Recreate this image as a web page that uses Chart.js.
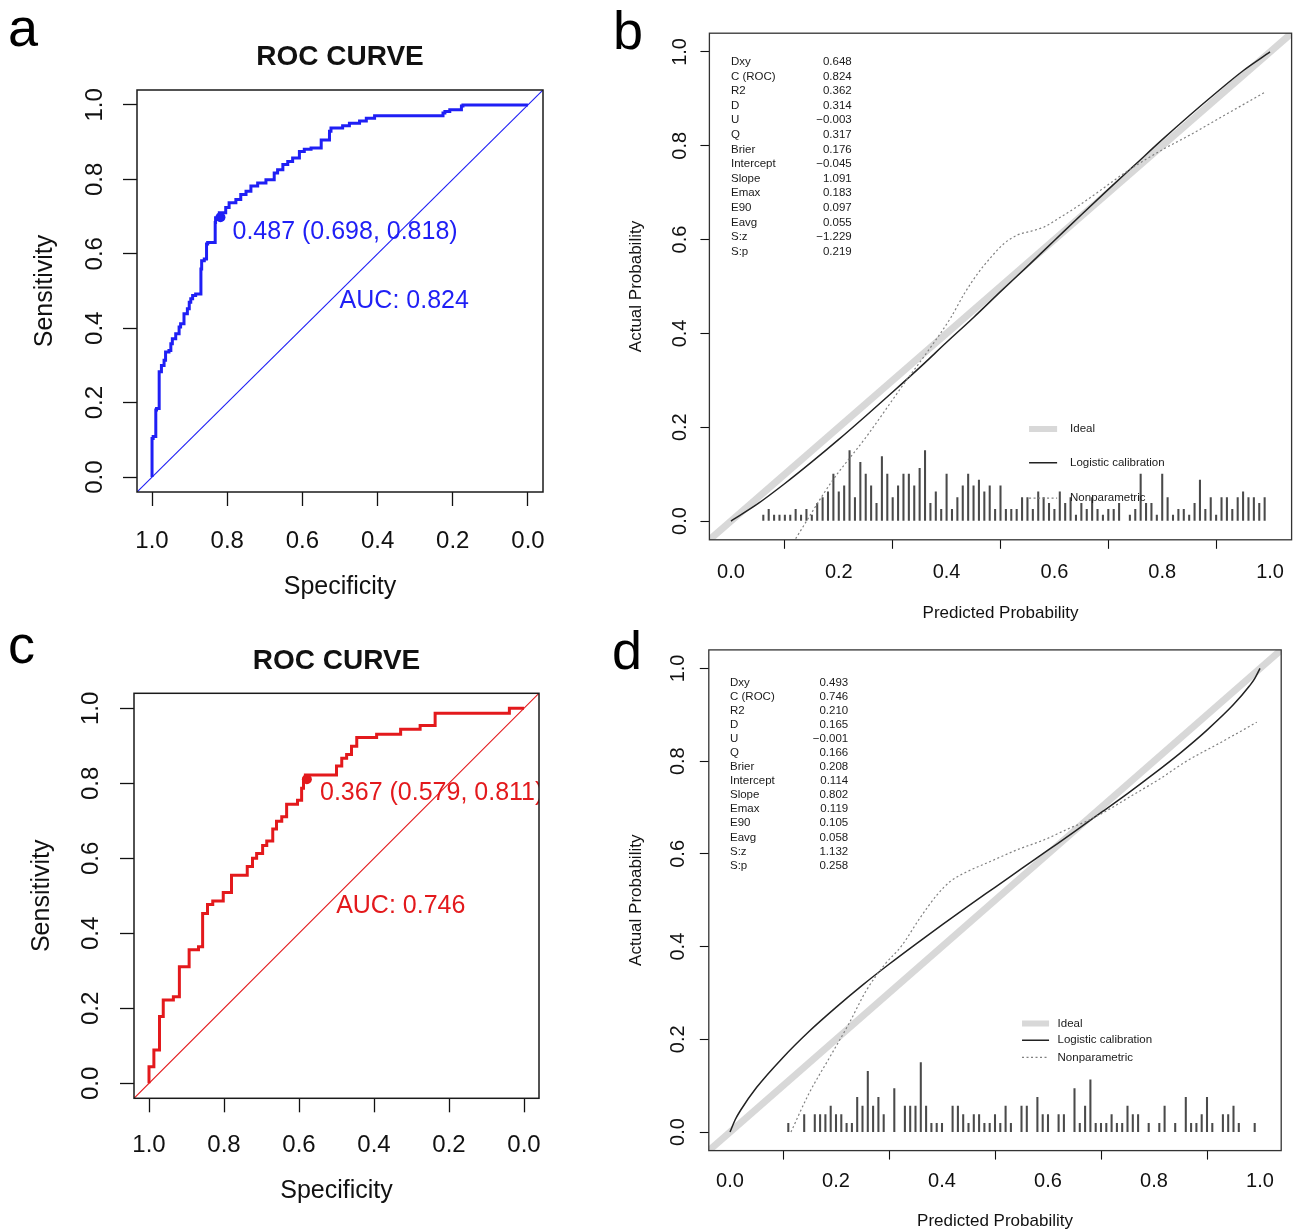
<!DOCTYPE html>
<html>
<head>
<meta charset="utf-8">
<script src="https://cdn.jsdelivr.net/npm/chart.js@4.4.1/dist/chart.umd.min.js"></script>
<style>
  body { margin: 0; background: #fff; width: 1296px; height: 1232px; position: relative; overflow: hidden;
         font-family: "Liberation Sans", Arial, Helvetica, sans-serif; }
  canvas { position: absolute; }
  .tag { position: absolute; font-size: 54px; line-height: 1; color: #000; }
</style>
</head>
<body>
<div class="tag" style="left:8px;top:-0.4px">a</div>
<div class="tag" style="left:613px;top:2.6px">b</div>
<div class="tag" style="left:8px;top:616.6px">c</div>
<div class="tag" style="left:612px;top:622.6px">d</div>

<canvas id="pa" width="600" height="615" style="left:0;top:0"></canvas>
<canvas id="pb" width="696" height="630" style="left:600px;top:0"></canvas>
<canvas id="pc" width="600" height="612" style="left:0;top:620px"></canvas>
<canvas id="pd" width="696" height="602" style="left:600px;top:630px"></canvas>

<script>
// tick labels, shared by all panels
const tickValues = [0, 0.2, 0.4, 0.6, 0.8, 1.0];

// a: ROC curve (specificity, sensitivity)
const rocASpec = [1.0,0.997,0.990,0.988,0.981,0.975,0.968,0.964,0.955,0.950,0.946,0.937,0.928,0.924,0.915,0.906,0.901,0.897,0.892,0.884,0.870,0.868,0.861,0.855,0.852,0.832,0.831,0.821,0.804,0.795,0.777,0.764,0.750,0.737,0.719,0.697,0.675,0.666,0.652,0.639,0.626,0.608,0.595,0.577,0.550,0.548,0.528,0.524,0.493,0.475,0.448,0.430,0.408,0.386,0.226,0.221,0.208,0.177,0.173,0.164,0.0];
const rocASens = [0,0.104,0.109,0.180,0.184,0.283,0.300,0.314,0.336,0.340,0.358,0.372,0.385,0.403,0.412,0.439,0.452,0.470,0.479,0.488,0.492,0.559,0.581,0.586,0.626,0.630,0.684,0.697,0.710,0.724,0.737,0.746,0.759,0.768,0.782,0.790,0.799,0.817,0.826,0.840,0.848,0.857,0.875,0.881,0.884,0.906,0.906,0.929,0.938,0.944,0.951,0.957,0.964,0.971,0.971,0.978,0.982,0.987,0.997,1.0,1.0];
const cutA = [0.818, 0.698];
const notesA = ['0.487 (0.698, 0.818)', 'AUC: 0.824'];

// c: ROC curve (specificity, sensitivity)
const rocCSpec = [1.0,0.987,0.972,0.962,0.935,0.919,0.893,0.868,0.857,0.844,0.830,0.802,0.780,0.738,0.724,0.713,0.697,0.686,0.670,0.660,0.646,0.633,0.604,0.593,0.588,0.583,0.500,0.486,0.473,0.460,0.446,0.393,0.329,0.277,0.237,0.039,0.0];
const rocCSens = [0,0.044,0.089,0.178,0.222,0.231,0.311,0.356,0.364,0.453,0.477,0.486,0.509,0.555,0.578,0.600,0.613,0.634,0.646,0.678,0.699,0.711,0.744,0.755,0.787,0.811,0.822,0.846,0.867,0.877,0.899,0.922,0.931,0.944,0.954,0.987,1.0];
const cutC = [0.579, 0.811];
const notesC = ['0.367 (0.579, 0.811)', 'AUC: 0.746'];

// b: calibration
const calBLogX = [0,0.05,0.1,0.15,0.2,0.25,0.3,0.35,0.4,0.45,0.5,0.55,0.6,0.65,0.7,0.75,0.8,0.85,0.9,0.95,1];
const calBLogY = [0,0.037,0.08,0.126,0.174,0.224,0.275,0.327,0.381,0.434,0.489,0.543,0.598,0.653,0.707,0.760,0.813,0.864,0.913,0.960,1];
const calBNpX = [0.12,0.186,0.252,0.318,0.367,0.408,0.433,0.458,0.482,0.507,0.532,0.557,0.581,0.606,0.647,0.689,0.730,0.771,0.804,0.853,0.911,0.99];
const calBNpY = [-0.0375,0.0825,0.181,0.288,0.365,0.434,0.485,0.528,0.562,0.592,0.610,0.618,0.627,0.644,0.674,0.708,0.742,0.772,0.794,0.824,0.862,0.914];
const rugBX = [0.06,0.07,0.08,0.09,0.10,0.11,0.12,0.13,0.14,0.15,0.16,0.17,0.18,0.19,0.20,0.21,0.22,0.23,0.24,0.25,
  0.26,0.27,0.28,0.29,0.30,0.31,0.32,0.33,0.34,0.35,0.36,0.37,0.38,0.39,0.40,0.41,0.42,0.43,0.44,0.45,
  0.46,0.47,0.48,0.49,0.50,0.51,0.52,0.53,0.54,0.55,0.56,0.57,0.58,0.59,0.60,0.61,0.62,0.63,0.64,0.65,
  0.66,0.67,0.68,0.69,0.70,0.71,0.72,0.74,0.75,0.76,0.77,0.78,0.79,0.80,0.81,0.82,0.83,0.84,0.85,
  0.86,0.87,0.88,0.89,0.90,0.91,0.92,0.93,0.94,0.95,0.96,0.97,0.98,0.99];
const rugBN = [1,2,1,1,1,1,2,1,2,1, 3,4,5,8,5,6,12,4,10,8,
  6,3,11,8,4,6,8,8,6,9, 12,3,5,2,8,2,4,6,8,6,
  7,5,6,2,6,2,2,2,4,4, 2,5,4,3,2,5,3,4,1,3,
  2,4,2,1,2,2,3,1,2, 8,3,3,1,8,4,1,2,2,1,
  3,7,2,4,1,4,4,2,4,5, 4,4,3,4];
const rugBUnit = 0.0125;

// d: calibration
const calDLogX = [0,0.01,0.02,0.05,0.1,0.15,0.2,0.25,0.3,0.35,0.4,0.45,0.5,0.55,0.6,0.65,0.7,0.75,0.8,0.85,0.9,0.95,0.98,0.99,1];
const calDLogY = [0,0.027,0.047,0.096,0.161,0.218,0.269,0.317,0.362,0.405,0.447,0.488,0.528,0.568,0.608,0.648,0.689,0.730,0.773,0.818,0.867,0.922,0.962,0.978,1];
const calDNpX = [0.115,0.148,0.190,0.224,0.257,0.291,0.324,0.358,0.391,0.416,0.450,0.492,0.542,0.592,0.642,0.676,0.718,0.760,0.810,0.860,0.927,0.994];
const calDNpY = [0.0,0.081,0.165,0.233,0.305,0.360,0.402,0.461,0.512,0.541,0.563,0.584,0.609,0.630,0.656,0.672,0.698,0.727,0.761,0.799,0.841,0.884];
const rugDX = [0.11,0.14,0.16,0.17,0.18,0.19,0.20,0.21,0.22,0.23,0.24,0.25,0.26,0.27,0.28,0.29,0.31,0.33,0.34,0.35,
  0.36,0.37,0.38,0.39,0.40,0.42,0.43,0.44,0.45,0.46,0.47,0.48,0.49,0.50,0.51,0.52,0.53,0.55,0.56,0.58,
  0.59,0.60,0.62,0.63,0.65,0.66,0.67,0.68,0.69,0.70,0.71,0.72,0.73,0.74,0.75,0.76,0.77,0.79,0.81,0.82,
  0.84,0.86,0.87,0.88,0.89,0.90,0.91,0.93,0.94,0.95,0.96,0.99];
const rugDN = [1,2,2,2,2,3,2,2,1,1,4,3,7,3,4,2,5,3,3,3,
  8,3,1,1,1,3,3,2,1,2,2,1,1,2,1,3,1,3,3,4,
  2,2,2,2,5,1,3,6,1,1,1,2,1,1,3,2,2,1,1,3,
  1,4,1,1,2,4,1,2,2,3,1,1];
const rugDUnit = 0.01875;

const idealXY = [-0.04, 1.04];

const statNames = ['Dxy','C (ROC)','R2','D','U','Q','Brier','Intercept','Slope','Emax','E90','Eavg','S:z','S:p'];
const statsB = ['0.648','0.824','0.362','0.314','\u22120.003','0.317','0.176','\u22120.045','1.091','0.183','0.097','0.055','\u22121.229','0.219'];
const statsD = ['0.493','0.746','0.210','0.165','\u22120.001','0.166','0.208','0.114','0.802','0.119','0.105','0.058','1.132','0.258'];
const legendNames = ['Ideal', 'Logistic calibration', 'Nonparametric'];

const FONT = '"Liberation Sans", Arial, Helvetica, sans-serif';
const BLUE = '#1f1ff5', RED = '#e3191c';
const GREY = '#d8d8d8', DARK = '#222', DOT = '#808080';

function pts(xs, ys) { return xs.map((x, i) => ({ x: x, y: ys[i] })); }
function spikes(xs, ns, unit) { return xs.map((x, i) => ({ x: x, y: ns[i] * unit })); }

// frame, text notes, stats table and legend, all placed in data units
const rPlot = {
  id: 'rPlot',
  afterDatasetsDraw(chart, args, o) {
    const { ctx, chartArea: a } = chart;
    const sx = chart.scales.x, sy = chart.scales.y;
    ctx.save();
    ctx.beginPath();
    ctx.rect(a.left, a.top, a.right - a.left, a.bottom - a.top);
    ctx.clip();
    ctx.textBaseline = 'middle';
    (o.notes || []).forEach(n => {
      ctx.font = n.font;
      ctx.fillStyle = n.color;
      ctx.textAlign = 'left';
      ctx.fillText(n.text, sx.getPixelForValue(n.x), sy.getPixelForValue(n.y));
    });
    if (o.stats) {
      const s = o.stats;
      ctx.font = s.font;
      ctx.fillStyle = s.color;
      s.names.forEach((nm, i) => {
        const yy = sy.getPixelForValue(s.top - i * s.step);
        ctx.textAlign = 'left';
        ctx.fillText(nm, sx.getPixelForValue(s.xl), yy);
        ctx.textAlign = 'right';
        ctx.fillText(s.values[i], sx.getPixelForValue(s.xr), yy);
      });
    }
    if (o.legend) {
      const l = o.legend;
      l.names.forEach((nm, i) => {
        const yy = sy.getPixelForValue(l.ys[i]);
        const st = l.styles[i];
        ctx.beginPath();
        ctx.strokeStyle = st.color;
        ctx.lineWidth = st.width;
        ctx.setLineDash(st.dash || []);
        ctx.moveTo(sx.getPixelForValue(l.x1), yy);
        ctx.lineTo(sx.getPixelForValue(l.x2), yy);
        ctx.stroke();
        ctx.setLineDash([]);
        ctx.font = l.font;
        ctx.fillStyle = l.color;
        ctx.textAlign = 'left';
        ctx.fillText(nm, sx.getPixelForValue(l.xt), yy);
      });
    }
    ctx.restore();
    ctx.save();
    ctx.strokeStyle = o.frameColor;
    ctx.lineWidth = o.frameWidth;
    ctx.strokeRect(a.left, a.top, a.right - a.left, a.bottom - a.top);
    ctx.restore();
  }
};

function axisX(o) {
  return {
    type: 'linear', position: 'bottom', min: -0.04, max: 1.04, reverse: !!o.reverse, offset: false,
    afterBuildTicks: s => { s.ticks = tickValues.map(v => ({ value: v })); },
    afterFit: s => { s.height = o.size; },
    grid: { drawOnChartArea: false, drawTicks: true, tickLength: o.tl, tickColor: '#111', tickWidth: o.tw },
    border: { display: false },
    ticks: { autoSkip: false, maxRotation: 0, minRotation: 0, padding: o.pad, color: '#111',
             font: { family: FONT, size: o.tickSize, lineHeight: 1.2 }, callback: v => v.toFixed(1) },
    title: { display: true, text: o.title, color: '#111', padding: 0,
             font: { family: FONT, size: o.titleSize, lineHeight: 1.2 } }
  };
}

function axisY(o) {
  return {
    type: 'linear', position: 'left', min: -0.04, max: 1.04,
    afterBuildTicks: s => { s.ticks = tickValues.map(v => ({ value: v })); },
    afterFit: s => { s.width = o.size; },
    grid: { drawOnChartArea: false, drawTicks: true, tickLength: o.tl, tickColor: '#111', tickWidth: o.tw },
    border: { display: false },
    ticks: { autoSkip: false, minRotation: 90, maxRotation: 90, crossAlign: 'center', padding: o.pad, color: '#111',
             font: { family: FONT, size: o.tickSize, lineHeight: 1.2 }, callback: v => v.toFixed(1) },
    title: { display: true, text: o.title, color: '#111', padding: 0,
             font: { family: FONT, size: o.titleSize, lineHeight: 1.2 } }
  };
}

function panel(id, cfg) {
  return new Chart(document.getElementById(id), {
    type: 'scatter',
    data: { datasets: cfg.datasets },
    options: {
      responsive: false, animation: false, devicePixelRatio: 1, events: [],
      layout: { padding: cfg.padding },
      scales: { x: cfg.x, y: cfg.y },
      plugins: {
        legend: { display: false },
        tooltip: { enabled: false },
        title: cfg.title || { display: false },
        rPlot: cfg.deco
      }
    },
    plugins: [rPlot]
  });
}

function rocTitle(bottom) {
  return { display: true, text: 'ROC CURVE', color: '#111', fullSize: false,
           padding: { top: 0, bottom: bottom },
           font: { family: FONT, size: 28, weight: 'bold', lineHeight: 1.2 } };
}

function rocSets(spec, sens, cut, color) {
  return [
    { type: 'scatter', data: [{ x: cut[0], y: cut[1] }], pointRadius: 5, pointBackgroundColor: color, pointBorderWidth: 0 },
    { type: 'line', data: pts(spec, sens), borderColor: color, borderWidth: 3, pointRadius: 0, stepped: 'after', fill: false },
    { type: 'line', data: pts([idealXY[1], idealXY[0]], idealXY), borderColor: color, borderWidth: 1.1, pointRadius: 0, fill: false }
  ];
}

function calSets(lx, ly, nx, ny, rx, rn, unit) {
  return [
    { type: 'line', data: pts(nx, ny), borderColor: DOT, borderWidth: 1.2, borderDash: [2, 2.5], pointRadius: 0,
      cubicInterpolationMode: 'monotone', fill: false },
    { type: 'line', data: pts(lx, ly), borderColor: DARK, borderWidth: 1.5, pointRadius: 0,
      cubicInterpolationMode: 'monotone', fill: false },
    { type: 'bar', data: spikes(rx, rn, unit), backgroundColor: '#4a4a4a', barThickness: 1.4, borderWidth: 0, grouped: false },
    { type: 'line', data: pts(idealXY, idealXY), borderColor: GREY, borderWidth: 7, pointRadius: 0, fill: false }
  ];
}

const legendStyles = [
  { color: GREY, width: 6 },
  { color: DARK, width: 1.5 },
  { color: DOT, width: 1.2, dash: [2, 2.5] }
];

// panel a
panel('pa', {
  padding: { left: 30, right: 57, top: 40.2, bottom: 13 },
  title: rocTitle(16.2),
  x: axisX({ reverse: true, size: 110, tl: 14, tw: 1.3, pad: 20.6, tickSize: 24, title: 'Specificity', titleSize: 25 }),
  y: axisY({ size: 107, tl: 14, tw: 1.3, pad: 11.3, tickSize: 24, title: 'Sensitivity', titleSize: 25 }),
  datasets: rocSets(rocASpec, rocASens, cutA, BLUE),
  deco: {
    frameColor: '#1a1a1a', frameWidth: 1.5,
    notes: [
      { text: notesA[0], x: 0.786, y: 0.657, color: BLUE, font: '25px ' + FONT },
      { text: notesA[1], x: 0.501, y: 0.474, color: BLUE, font: '25px ' + FONT }
    ]
  }
});

// panel c
panel('pc', {
  padding: { left: 27, right: 61, top: 24.2, bottom: 26 },
  title: rocTitle(15.5),
  x: axisX({ reverse: true, size: 107.7, tl: 14, tw: 1.3, pad: 18.3, tickSize: 24, title: 'Specificity', titleSize: 25 }),
  y: axisY({ size: 107, tl: 14, tw: 1.3, pad: 12.3, tickSize: 24, title: 'Sensitivity', titleSize: 25 }),
  datasets: rocSets(rocCSpec, rocCSens, cutC, RED),
  deco: {
    frameColor: '#1a1a1a', frameWidth: 1.5,
    notes: [
      { text: notesC[0], x: 0.544, y: 0.773, color: RED, font: '25px ' + FONT },
      { text: notesC[1], x: 0.501, y: 0.473, color: RED, font: '25px ' + FONT }
    ]
  }
});

// panel b
panel('pb', {
  padding: { left: 25.8, right: 4.4, top: 33.2, bottom: 6.8 },
  x: axisX({ size: 83.4, tl: 9, tw: 1.1, pad: 11.2, tickSize: 20, title: 'Predicted Probability', titleSize: 17 }),
  y: axisY({ size: 83.6, tl: 9, tw: 1.1, pad: 6.5, tickSize: 20, title: 'Actual Probability', titleSize: 17 }),
  datasets: calSets(calBLogX, calBLogY, calBNpX, calBNpY, rugBX, rugBN, rugBUnit),
  deco: {
    frameColor: '#333', frameWidth: 1.3,
    stats: { names: statNames, values: statsB, xl: 0.0, xr: 0.224, top: 0.979, step: 0.03115,
             font: '11.5px ' + FONT, color: '#1a1a1a' },
    legend: { names: legendNames, styles: legendStyles, x1: 0.553, x2: 0.605, xt: 0.629,
              ys: [0.196, 0.124, 0.049], font: '11.5px ' + FONT, color: '#1a1a1a' }
  }
});

// panel d
panel('pd', {
  padding: { left: 25.8, right: 14.8, top: 19.4, bottom: 0.8 },
  x: axisX({ size: 80.6, tl: 9, tw: 1.1, pad: 9.4, tickSize: 20, title: 'Predicted Probability', titleSize: 17 }),
  y: axisY({ size: 83, tl: 9, tw: 1.1, pad: 7.9, tickSize: 20, title: 'Actual Probability', titleSize: 17 }),
  datasets: calSets(calDLogX, calDLogY, calDNpX, calDNpY, rugDX, rugDN, rugDUnit),
  deco: {
    frameColor: '#333', frameWidth: 1.3,
    stats: { names: statNames, values: statsD, xl: 0.0, xr: 0.223, top: 0.970, step: 0.0304,
             font: '11.5px ' + FONT, color: '#1a1a1a' },
    legend: { names: legendNames, styles: legendStyles, x1: 0.551, x2: 0.602, xt: 0.618,
              ys: [0.234, 0.198, 0.161], font: '11.5px ' + FONT, color: '#1a1a1a' }
  }
});
</script>
</body>
</html>
